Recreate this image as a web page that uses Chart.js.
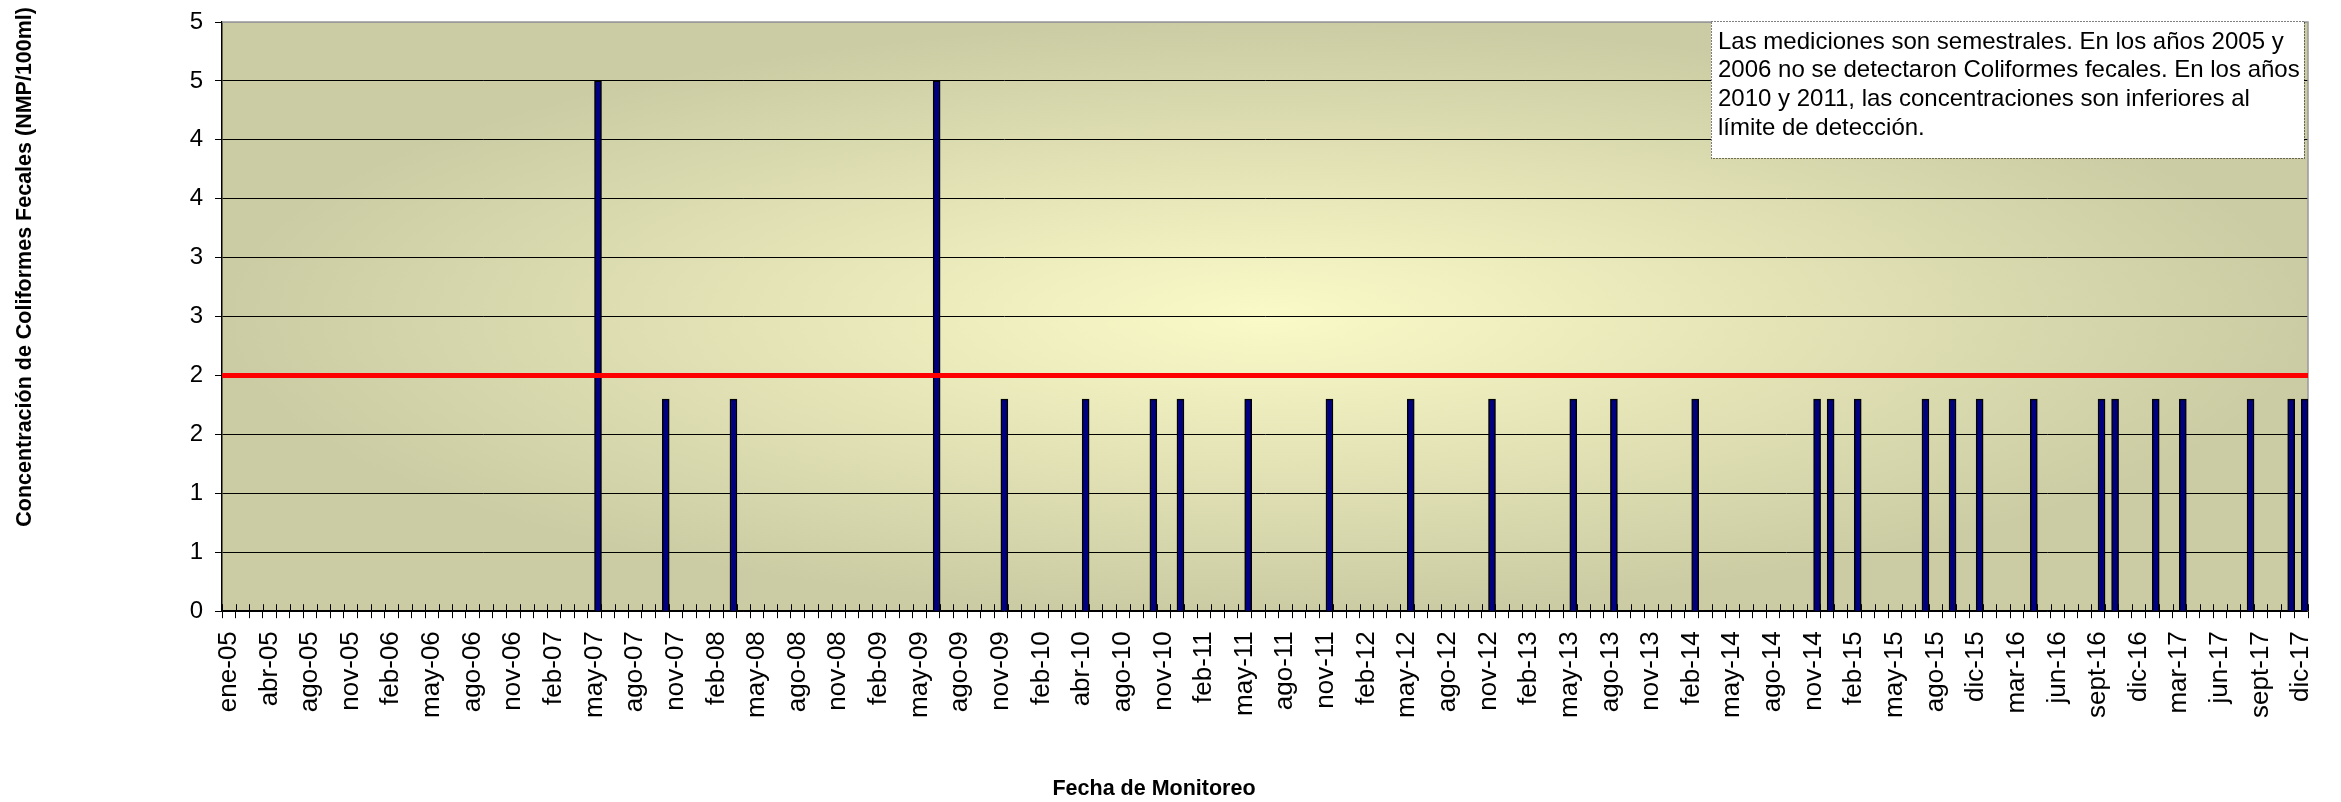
<!DOCTYPE html>
<html>
<head>
<meta charset="utf-8">
<script src="https://cdn.jsdelivr.net/npm/chart.js@4.4.0/dist/chart.umd.min.js"></script>
<style>
  html, body { margin: 0; padding: 0; background: #fff; }
  canvas { display: block; }
</style>
</head>
<body>
<canvas id="coliformesCanvas" width="2341" height="802"></canvas>
<script>
// labels shown on the date axis (one every 3 categories)
var tickLabels = ["ene-05","abr-05","ago-05","nov-05","feb-06","may-06","ago-06","nov-06","feb-07","may-07",
  "ago-07","nov-07","feb-08","may-08","ago-08","nov-08","feb-09","may-09","ago-09","nov-09",
  "feb-10","abr-10","ago-10","nov-10","feb-11","may-11","ago-11","nov-11","feb-12","may-12",
  "ago-12","nov-12","feb-13","may-13","ago-13","nov-13","feb-14","may-14","ago-14","nov-14",
  "feb-15","may-15","ago-15","dic-15","mar-16","jun-16","sept-16","dic-16","mar-17","jun-17",
  "sept-17","dic-17"];
var categoryCount = 154;

// category slot of each measurement and its value
var barSlots = [27, 32, 37, 52, 57, 63, 68, 70, 75, 81, 87, 93, 99, 102, 108,
  117, 118, 120, 125, 127, 129, 133, 138, 139, 142, 144, 149, 152, 153];
var barValues = [4.5, 1.8, 1.8, 4.5, 1.8, 1.8, 1.8, 1.8, 1.8, 1.8, 1.8, 1.8, 1.8, 1.8, 1.8,
  1.8, 1.8, 1.8, 1.8, 1.8, 1.8, 1.8, 1.8, 1.8, 1.8, 1.8, 1.8, 1.8, 1.8];

var limitValue = [2, 2];
var yTickLabels = ["0","1","1","2","2","3","3","4","4","5","5"];

var yTitle = "Concentración de Coliformes Fecales (NMP/100ml)";
var xTitle = "Fecha de Monitoreo";
var noteLines = [
  "Las mediciones son semestrales. En los años 2005 y",
  "2006 no se detectaron Coliformes fecales. En los años",
  "2010 y 2011, las concentraciones son inferiores al",
  "límite de detección."
];

var fontFamily = "'Liberation Sans', Arial, sans-serif";

var categories = [];
for (var i = 0; i < categoryCount; i++) {
  categories.push(i % 3 === 0 ? tickLabels[i / 3] : "");
}
var barData = categories.map(function () { return null; });
barSlots.forEach(function (slot, k) { barData[slot] = barValues[k]; });

var plotDecor = {
  id: 'plotDecor',
  beforeDraw: function (chart) {
    var a = chart.chartArea, ctx = chart.ctx;
    var w = a.right - a.left, h = a.bottom - a.top;
    ctx.save();
    ctx.beginPath();
    ctx.rect(a.left, a.top, w, h);
    ctx.clip();
    ctx.translate(a.left + w / 2, a.top + h / 2);
    ctx.scale(w / 2, h / 2);
    var g = ctx.createRadialGradient(0, 0, 0, 0, 0, 1);
    g.addColorStop(0, '#fafac8');
    g.addColorStop(1, '#cccca4');
    ctx.fillStyle = g;
    ctx.fillRect(-1.5, -1.5, 3, 3);
    ctx.restore();
  },
  beforeDatasetsDraw: function (chart) {
    var a = chart.chartArea, ctx = chart.ctx;
    ctx.save();
    // grey frame on top and right
    ctx.strokeStyle = '#999';
    ctx.lineWidth = 1.5;
    ctx.beginPath();
    ctx.moveTo(a.left, a.top);
    ctx.lineTo(a.right, a.top);
    ctx.lineTo(a.right, a.bottom);
    ctx.stroke();
    // inner half of the cross tick marks on the date axis
    var x = chart.scales.x;
    var step = (x.right - x.left) / categories.length;
    ctx.strokeStyle = '#000';
    ctx.lineWidth = 1;
    ctx.beginPath();
    for (var i = 0; i <= categories.length; i++) {
      var px = Math.round(x.left + i * step) + 0.5;
      ctx.moveTo(px, a.bottom - 7);
      ctx.lineTo(px, a.bottom);
    }
    ctx.stroke();
    ctx.restore();
  },
  afterDraw: function (chart) {
    var a = chart.chartArea, ctx = chart.ctx;
    ctx.save();
    // y axis title, reading upwards, ending a little above the plot
    ctx.fillStyle = '#000';
    ctx.font = 'bold 21.5px ' + fontFamily;
    ctx.translate(25, a.top - 15);
    ctx.rotate(-Math.PI / 2);
    ctx.textAlign = 'right';
    ctx.textBaseline = 'middle';
    ctx.fillText(yTitle, 0, 0);
    ctx.restore();

    // note box
    var left = a.right - 597, top = a.top - 1, w = 593, h = 137;
    ctx.save();
    ctx.fillStyle = '#fff';
    ctx.fillRect(left, top, w, h);
    ctx.setLineDash([1, 2]);
    ctx.strokeStyle = '#000';
    ctx.lineWidth = 1;
    ctx.strokeRect(left + 0.5, top + 0.5, w, h);
    ctx.setLineDash([]);
    ctx.fillStyle = '#000';
    ctx.font = '24px ' + fontFamily;
    ctx.textBaseline = 'middle';
    noteLines.forEach(function (line, k) {
      ctx.fillText(line, left + 7, top + 21 + k * 28.8);
    });
    ctx.restore();
  }
};

var context = document.getElementById('coliformesCanvas');

var chart = new Chart(context, {
  type: 'bar',
  data: {
    labels: categories,
    datasets: [
      {
        type: 'line',
        label: 'Límite',
        xAxisID: 'x2',
        data: limitValue,
        borderColor: '#ff0000',
        borderWidth: 5,
        pointRadius: 0,
        order: 0
      },
      {
        label: 'Coliformes Fecales',
        data: barData,
        backgroundColor: '#000080',
        borderColor: '#000',
        borderWidth: 1.5,
        barThickness: 7,
        order: 1
      }
    ]
  },
  options: {
    responsive: false,
    animation: false,
    devicePixelRatio: 1,
    layout: { padding: { left: 0, right: 33, top: 22, bottom: 0 } },
    plugins: {
      legend: { display: false },
      tooltip: { enabled: false },
      title: {
        display: true,
        text: xTitle,
        position: 'bottom',
        color: '#000',
        padding: { top: 0, bottom: 0 },
        font: { family: fontFamily, size: 21.5, weight: 'bold' }
      }
    },
    scales: {
      x: {
        type: 'category',
        offset: true,
        grid: { offset: true, drawOnChartArea: false, tickLength: 7, color: '#000', lineWidth: 1 },
        border: { color: '#000', width: 1.5 },
        ticks: {
          autoSkip: false, maxRotation: 90, minRotation: 90, padding: 13, color: '#000',
          font: { family: fontFamily, size: 26 }
        },
        afterFit: function (scale) {
          scale.height = 165;
          scale.paddingLeft = 0;
          scale.paddingRight = 0;
        }
      },
      x2: {
        type: 'category',
        labels: [tickLabels[0], tickLabels[tickLabels.length - 1]],
        offset: false,
        display: false
      },
      y: {
        min: 0,
        max: 5,
        ticks: {
          stepSize: 0.5, padding: 12, color: '#000',
          font: { family: fontFamily, size: 24 },
          callback: function (v, i) { return yTickLabels[i]; }
        },
        grid: {
          color: function (c) { return c.tick && c.tick.value === 5 ? '#999' : '#000'; },
          tickColor: '#000', tickLength: 7, lineWidth: 1
        },
        border: { color: '#000', width: 1.5 },
        afterFit: function (scale) {
          scale.width = 222;
          scale.paddingTop = 0;
          scale.paddingBottom = 0;
        }
      }
    }
  },
  plugins: [plotDecor]
});
</script>
</body>
</html>
